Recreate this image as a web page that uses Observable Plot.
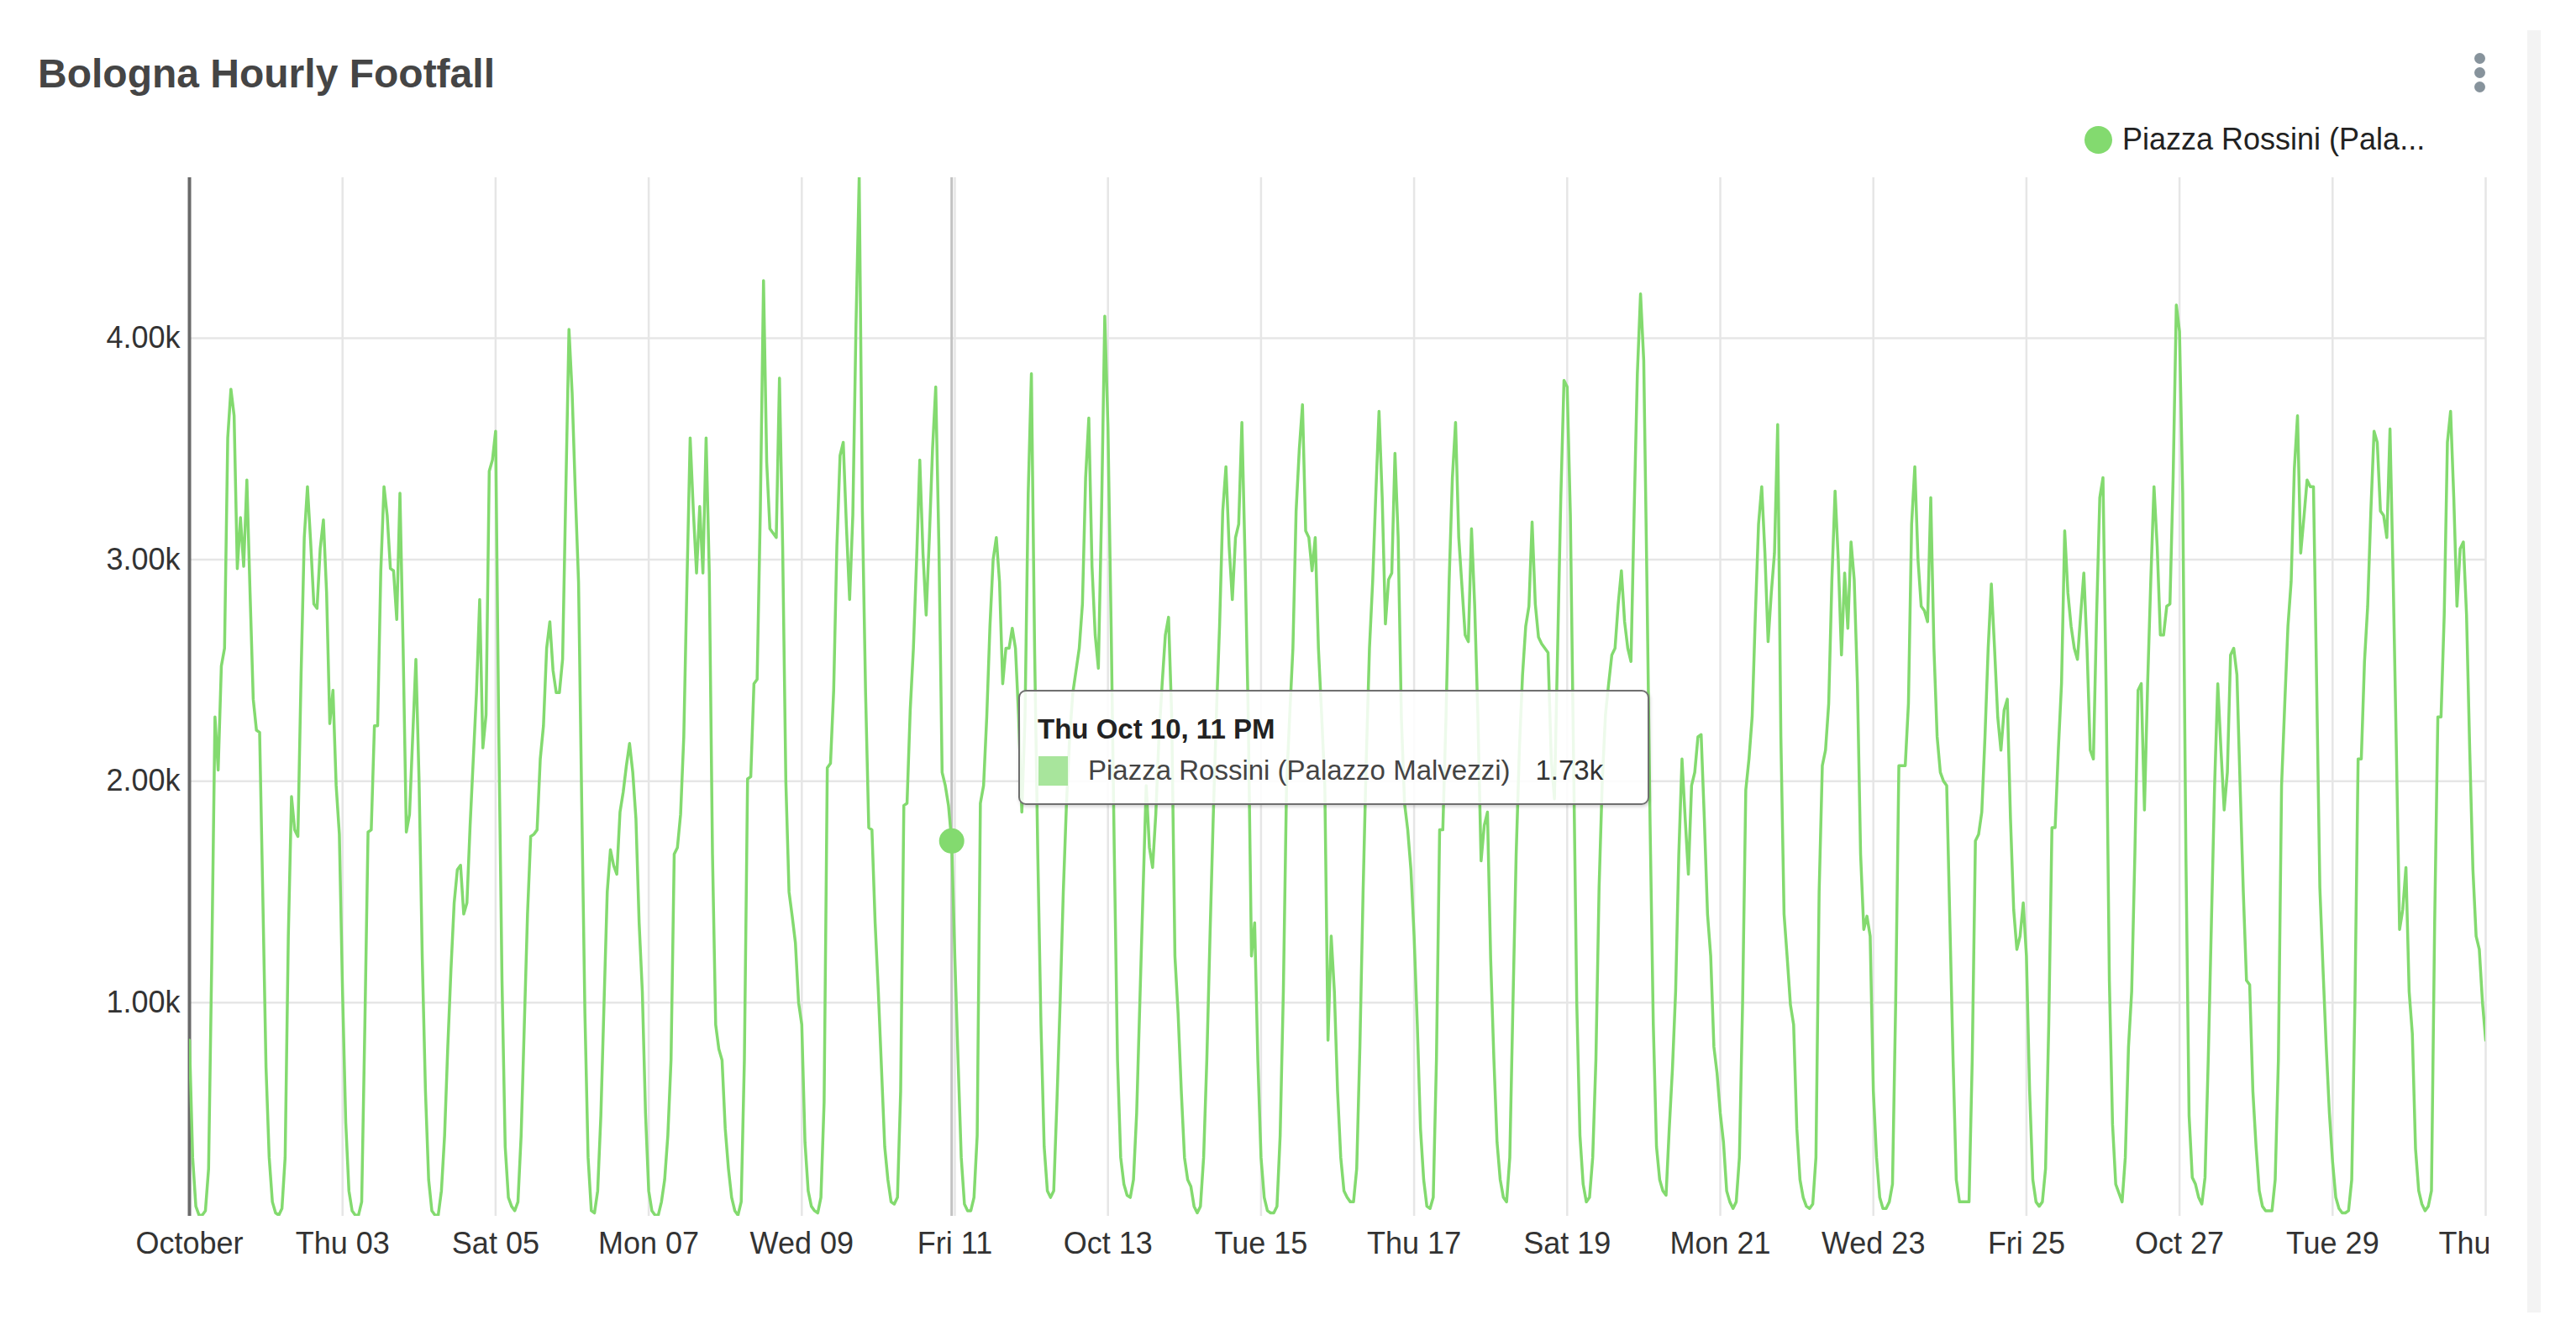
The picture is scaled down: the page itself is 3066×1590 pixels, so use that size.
<!DOCTYPE html>
<html>
<head>
<meta charset="utf-8">
<script src="https://cdn.jsdelivr.net/npm/d3@7"></script>
<script src="https://cdn.jsdelivr.net/npm/@observablehq/plot@0.6"></script>
<style>
  html, body { margin: 0; padding: 0; background: #fff; }
  #wrap { position: relative; width: 3066px; height: 1590px; overflow: hidden; background: #fff;
          font-family: "Liberation Sans", Arial, Helvetica, sans-serif; }
  #chart { position: absolute; left: 0; top: 0; }
  #title { position: absolute; left: 45px; top: 64px; font-size: 48px; font-weight: bold; color: #454545; white-space: nowrap; line-height: 1; }
  #legend { position: absolute; left: 2481px; top: 148px; height: 36px; display: flex; align-items: center; font-size: 36px; color: #222; white-space: nowrap; }
  #legend .sw { width: 33px; height: 33px; border-radius: 50%; margin-right: 12px; }
  #menu { position: absolute; left: 2945px; top: 63px; width: 14px; }
  #menu div { width: 13px; height: 13px; border-radius: 50%; background: #87939c; margin-bottom: 4px; }
  #strip { position: absolute; left: 3008px; top: 36px; width: 16px; height: 1526px; background: #f3f3f3; }
  #tip { position: absolute; left: 1212px; top: 821px; width: 751px; height: 137px; box-sizing: border-box;
         border: 2px solid #6f6f6f; border-radius: 9px; background: rgba(255,255,255,0.86);
         box-shadow: 1px 2px 4px rgba(0,0,0,0.18); font-size: 33px; color: #333; }
  #tip .t { position: absolute; left: 21px; top: 26px; font-weight: bold; color: #222; white-space: nowrap; }
  #tip .row { position: absolute; left: 22px; top: 75px; display: flex; align-items: center; white-space: nowrap; }
  #tip .sq { width: 35px; height: 35px; margin-right: 24px; }
  #tip .name { color: #444; margin-right: 30px; }
</style>
</head>
<body>
<div id="wrap">
  <div id="chart"></div>
  <div id="title"></div>
  <div id="legend"><div class="sw"></div><span class="lt"></span></div>
  <div id="menu"><div></div><div></div><div></div></div>
  <div id="strip"></div>
  <div id="tip"><div class="t"></div><div class="row"><div class="sq"></div><span class="name"></span><span class="val"></span></div></div>
</div>
<script>
// ---- chart text ----
const chartTitle = "Bologna Hourly Footfall";
const seriesName = "Piazza Rossini (Palazzo Malvezzi)";

// ---- x axis ticks (October 2024) ----
const xTickDays = [1, 3, 5, 7, 9, 11, 13, 15, 17, 19, 21, 23, 25, 27, 29, 31];
const xTickLabels = ["October", "Thu 03", "Sat 05", "Mon 07", "Wed 09", "Fri 11", "Oct 13", "Tue 15",
                     "Thu 17", "Sat 19", "Mon 21", "Wed 23", "Fri 25", "Oct 27", "Tue 29", "Thu 31"];
// ---- y axis ticks (thousands) ----
const yTicks = [1, 2, 3, 4];

// ---- hourly footfall, thousands, hour 0..23 of each day ----
const oct01 = [0.83,0.30,0.08,0.04,0.04,0.06,0.25,1.20,2.29,2.05,2.52,2.60,3.55,3.77,3.65,2.96,3.19,2.97,3.36,2.85,2.37,2.23,2.22,1.48];
const oct02 = [0.71,0.30,0.10,0.05,0.04,0.07,0.30,1.30,1.93,1.78,1.75,2.48,3.10,3.33,3.08,2.80,2.78,3.05,3.18,2.85,2.26,2.41,1.98,1.76];
const oct03 = [1.05,0.46,0.15,0.06,0.04,0.04,0.10,0.90,1.77,1.78,2.25,2.25,2.95,3.33,3.20,2.96,2.95,2.73,3.30,2.60,1.77,1.85,2.20,2.55];
const oct04 = [2.00,1.20,0.60,0.20,0.06,0.04,0.04,0.15,0.40,0.80,1.15,1.45,1.60,1.62,1.40,1.45,1.80,2.10,2.40,2.82,2.15,2.30,3.40,3.45];
const oct05 = [3.58,2.20,1.10,0.35,0.12,0.08,0.06,0.10,0.40,0.90,1.40,1.75,1.76,1.78,2.10,2.25,2.60,2.72,2.50,2.40,2.40,2.55,3.30,4.04];
const oct06 = [3.75,3.30,2.90,1.90,0.95,0.30,0.06,0.05,0.15,0.49,1.00,1.50,1.69,1.62,1.58,1.86,1.95,2.07,2.17,2.04,1.83,1.36,1.05,0.50];
const oct07 = [0.15,0.06,0.04,0.04,0.10,0.20,0.40,0.74,1.67,1.70,1.85,2.20,2.90,3.55,3.22,2.94,3.24,2.94,3.55,2.94,1.67,0.90,0.79,0.74];
const oct08 = [0.43,0.25,0.12,0.06,0.04,0.10,0.74,2.01,2.02,2.44,2.46,3.22,4.26,3.44,3.14,3.12,3.10,3.82,3.06,2.00,1.50,1.39,1.27,1.00];
const oct09 = [0.90,0.37,0.15,0.08,0.06,0.05,0.12,0.55,2.06,2.08,2.41,3.06,3.47,3.53,3.15,2.82,3.20,4.06,4.73,3.22,2.40,1.79,1.78,1.36];
const oct10 = [1.05,0.70,0.35,0.20,0.10,0.09,0.12,0.60,1.89,1.90,2.32,2.60,3.00,3.45,3.03,2.75,3.10,3.50,3.78,3.06,2.04,1.98,1.89,1.73];
const oct11 = [1.20,0.74,0.30,0.09,0.06,0.06,0.12,0.40,1.90,1.98,2.29,2.70,3.00,3.10,2.90,2.44,2.60,2.60,2.69,2.60,2.29,1.86,2.29,3.30];
const oct12 = [3.84,2.60,1.67,0.90,0.35,0.15,0.12,0.15,0.55,1.00,1.50,1.90,2.20,2.40,2.50,2.60,2.80,3.37,3.64,2.97,2.66,2.51,3.22,4.10];
const oct13 = [3.60,2.70,1.67,0.74,0.30,0.18,0.13,0.12,0.20,0.50,1.00,1.50,1.98,1.70,1.61,1.85,2.20,2.44,2.66,2.74,2.29,1.21,0.95,0.60];
const oct14 = [0.30,0.20,0.17,0.08,0.05,0.08,0.30,0.74,1.30,1.83,2.30,2.70,3.22,3.42,3.06,2.82,3.10,3.16,3.62,3.00,2.29,1.21,1.36,0.74];
const oct15 = [0.30,0.12,0.06,0.05,0.05,0.08,0.40,1.05,1.98,2.30,2.60,3.22,3.50,3.70,3.13,3.10,2.95,3.10,2.60,2.30,1.98,0.83,1.30,1.05];
const oct16 = [0.60,0.30,0.15,0.12,0.10,0.10,0.25,0.80,1.50,2.10,2.60,2.90,3.30,3.67,3.28,2.71,2.91,2.94,3.48,3.10,2.29,1.90,1.78,1.60];
const oct17 = [1.30,0.90,0.43,0.20,0.08,0.07,0.12,0.74,1.78,1.78,2.29,2.91,3.37,3.62,3.10,2.88,2.66,2.63,3.14,2.79,2.29,1.64,1.80,1.86];
const oct18 = [1.20,0.75,0.37,0.20,0.12,0.10,0.30,1.00,1.67,2.14,2.48,2.70,2.79,3.17,2.80,2.65,2.62,2.60,2.58,2.10,1.92,2.60,3.28,3.81];
const oct19 = [3.78,3.20,2.10,1.00,0.40,0.18,0.10,0.12,0.30,0.74,1.52,2.00,2.30,2.44,2.57,2.60,2.80,2.95,2.72,2.60,2.54,3.22,3.84,4.20];
const oct20 = [3.90,2.90,1.80,0.90,0.35,0.20,0.15,0.13,0.43,0.70,1.05,1.67,2.10,1.83,1.58,1.98,2.04,2.20,2.21,1.83,1.40,1.21,0.80,0.68];
const oct21 = [0.50,0.37,0.15,0.10,0.07,0.10,0.30,1.00,1.96,2.10,2.29,2.75,3.16,3.33,3.03,2.63,2.85,3.03,3.61,2.20,1.40,1.20,0.99,0.90];
const oct22 = [0.43,0.20,0.12,0.08,0.07,0.09,0.30,1.50,2.07,2.14,2.35,2.91,3.31,3.00,2.57,2.94,2.69,3.08,2.91,2.44,1.67,1.33,1.39,1.30];
const oct23 = [0.60,0.30,0.12,0.07,0.07,0.10,0.18,1.00,2.07,2.07,2.07,2.35,3.16,3.42,3.00,2.79,2.77,2.72,3.28,2.60,2.20,2.04,2.00,1.98];
const oct24 = [1.36,0.74,0.20,0.10,0.10,0.10,0.10,0.74,1.73,1.76,1.86,2.20,2.60,2.89,2.60,2.29,2.14,2.32,2.37,1.83,1.42,1.24,1.30,1.45];
const oct25 = [1.21,0.60,0.20,0.10,0.08,0.10,0.25,0.90,1.79,1.79,2.14,2.44,3.13,2.85,2.70,2.60,2.55,2.75,2.94,2.60,2.14,2.10,2.75,3.28];
const oct26 = [3.37,2.40,1.10,0.45,0.18,0.14,0.10,0.30,0.80,1.05,1.67,2.41,2.44,1.87,2.44,2.91,3.33,3.06,2.66,2.66,2.79,2.80,3.37,4.15];
const oct27 = [4.03,3.30,1.67,0.49,0.21,0.18,0.12,0.09,0.21,0.74,1.36,1.98,2.44,2.14,1.87,2.04,2.57,2.60,2.48,1.98,1.50,1.10,1.08,0.60];
const oct28 = [0.35,0.15,0.08,0.06,0.06,0.06,0.20,0.74,1.98,2.35,2.70,2.90,3.41,3.65,3.03,3.19,3.36,3.33,3.33,2.44,1.52,1.15,0.80,0.50];
const oct29 = [0.28,0.12,0.07,0.05,0.05,0.06,0.20,1.00,2.10,2.10,2.54,2.79,3.22,3.58,3.53,3.22,3.20,3.10,3.59,2.91,2.14,1.33,1.42,1.61];
const oct30 = [1.05,0.86,0.34,0.15,0.09,0.06,0.08,0.15,1.36,2.29,2.29,2.75,3.53,3.67,3.28,2.79,3.05,3.08,2.75,2.14,1.60,1.30,1.24,1.00];
const oct31 = [0.83];

// hovered reading shown in the tooltip
const hoverDay = 10, hoverHour = 23;

// ---- build table ----
const days = [oct01,oct02,oct03,oct04,oct05,oct06,oct07,oct08,oct09,oct10,oct11,oct12,oct13,oct14,oct15,
              oct16,oct17,oct18,oct19,oct20,oct21,oct22,oct23,oct24,oct25,oct26,oct27,oct28,oct29,oct30,oct31];
const rows = [];
days.forEach((vals, i) => vals.forEach((v, h) => rows.push({time: new Date(Date.UTC(2024, 9, i + 1, h)), value: v})));

const tickDates = xTickDays.map(d => new Date(Date.UTC(2024, 9, d)));
const labelByTime = new Map(tickDates.map((t, i) => [+t, xTickLabels[i]]));
const hoverRow = rows.find(r => +r.time === Date.UTC(2024, 9, hoverDay, hoverHour));
const green = "#83da6f";

const chart = Plot.plot({
  width: 2962,
  height: 1590,
  marginLeft: 225,
  marginRight: 4,
  marginTop: 211,
  marginBottom: 143,
  style: {fontFamily: "'Liberation Sans', Arial, Helvetica, sans-serif", fontSize: "36px", color: "#333", background: "transparent"},
  x: {type: "utc", domain: [tickDates[0], tickDates[tickDates.length - 1]], ticks: tickDates,
      tickFormat: d => labelByTime.get(+d), tickSize: 0, tickPadding: 19, label: null},
  y: {domain: [0.035, 4.725], ticks: yTicks, tickFormat: d => d.toFixed(2) + "k", tickSize: 0, tickPadding: 11, label: null},
  marks: [
    Plot.ruleX(tickDates, {stroke: "#e6e6e6", strokeWidth: 2.5}),
    Plot.ruleY(yTicks, {stroke: "#e6e6e6", strokeWidth: 2.5}),
    Plot.ruleX([hoverRow.time], {stroke: "#c2c2c2", strokeWidth: 3}),
    Plot.ruleX([tickDates[0]], {stroke: "#6a6a6a", strokeWidth: 4}),
    Plot.line(rows, {x: "time", y: "value", stroke: green, strokeWidth: 3.5, clip: true}),
    Plot.dot([hoverRow], {x: "time", y: "value", r: 15, fill: green, stroke: "none"})
  ]
});
document.getElementById("chart").appendChild(chart);

// ---- title, legend, tooltip text ----
document.getElementById("title").textContent = chartTitle;
document.querySelector("#legend .sw").style.background = green;
document.querySelector("#legend .lt").textContent = seriesName.slice(0, 20) + "...";
document.querySelector("#tip .t").textContent = d3.utcFormat("%a %b %d, %-I %p")(hoverRow.time);
document.querySelector("#tip .sq").style.background = "#a8e59c";
document.querySelector("#tip .name").textContent = seriesName;
document.querySelector("#tip .val").textContent = d3.format(".3s")(hoverRow.value * 1000);
</script>
</body>
</html>
